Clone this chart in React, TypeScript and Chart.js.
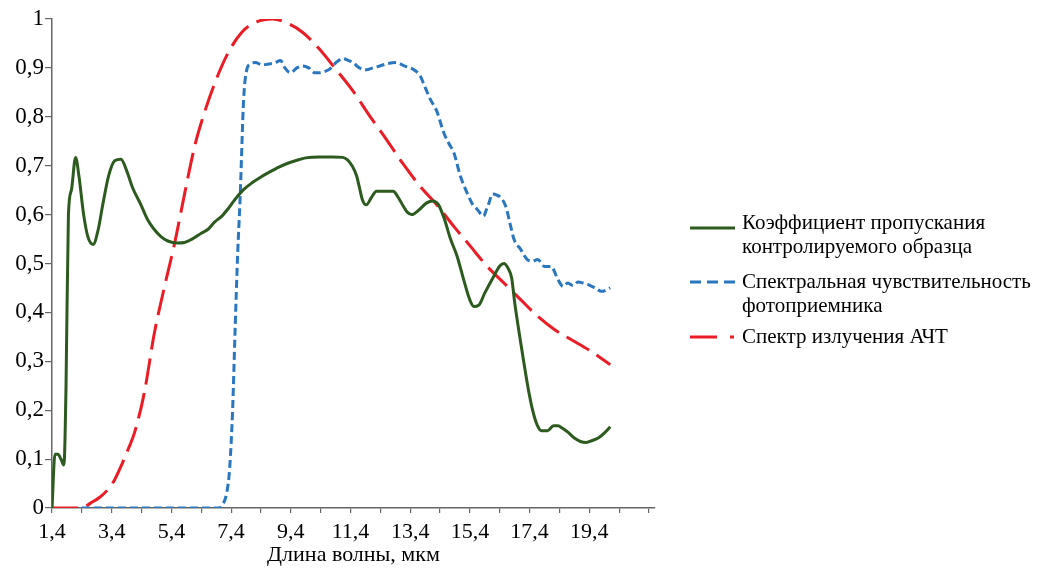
import React, { useEffect, useRef } from "react";
import { Chart, registerables } from "chart.js";

Chart.register(...registerables);

// ---- Data (wavelength, µm / relative value) ----
const transX = [1.4, 1.5, 1.6, 1.7, 1.8, 1.87, 1.95, 2.05, 2.19, 2.3, 2.46, 2.6, 2.78, 2.95, 3.1, 3.3, 3.5, 3.71, 3.9, 4.1, 4.38, 4.6, 4.82, 5.05, 5.28, 5.6, 5.84, 6.0, 6.18, 6.4, 6.63, 6.85, 7.09, 7.3, 7.53, 7.8, 8.1, 8.4, 8.66, 9.0, 9.3, 9.55, 9.9, 10.35, 10.8, 11.14, 11.3, 11.45, 11.6, 11.7, 11.8, 11.93, 12.1, 12.27, 12.5, 12.83, 13.0, 13.17, 13.3, 13.45, 13.7, 13.95, 14.15, 14.35, 14.55, 14.75, 14.97, 15.2, 15.4, 15.53, 15.7, 15.9, 16.2, 16.4, 16.54, 16.68, 16.8, 16.9, 17.05, 17.2, 17.35, 17.5, 17.65, 17.8, 18.0, 18.2, 18.35, 18.5, 18.68, 18.9, 19.1, 19.3, 19.5, 19.7, 19.9, 20.1];
const transY = [0, 0.11, 0.11, 0.1, 0.088, 0.25, 0.6, 0.65, 0.717, 0.68, 0.6, 0.555, 0.539, 0.57, 0.62, 0.68, 0.71, 0.713, 0.69, 0.655, 0.62, 0.59, 0.57, 0.555, 0.546, 0.542, 0.543, 0.547, 0.553, 0.562, 0.57, 0.585, 0.597, 0.612, 0.631, 0.65, 0.665, 0.677, 0.686, 0.697, 0.705, 0.71, 0.716, 0.718, 0.718, 0.717, 0.712, 0.7, 0.68, 0.655, 0.63, 0.62, 0.635, 0.648, 0.648, 0.648, 0.635, 0.617, 0.605, 0.6, 0.61, 0.624, 0.628, 0.62, 0.59, 0.55, 0.515, 0.465, 0.425, 0.412, 0.415, 0.44, 0.474, 0.495, 0.5, 0.49, 0.47, 0.42, 0.358, 0.3, 0.245, 0.2, 0.17, 0.158, 0.158, 0.168, 0.168, 0.163, 0.155, 0.143, 0.136, 0.134, 0.138, 0.143, 0.153, 0.166];

const sensX = [2.4, 4.0, 6.0, 7.0, 7.1, 7.25, 7.35, 7.45, 7.53, 7.62, 7.7, 7.82, 7.92, 8.05, 8.21, 8.45, 8.66, 8.85, 9.06, 9.2, 9.39, 9.6, 9.79, 10.0, 10.2, 10.35, 10.55, 10.69, 10.9, 11.14, 11.3, 11.48, 11.7, 11.93, 12.15, 12.38, 12.65, 12.94, 13.2, 13.5, 13.73, 13.9, 14.07, 14.3, 14.52, 14.7, 14.86, 15.08, 15.3, 15.5, 15.64, 15.86, 15.95, 16.04, 16.15, 16.3, 16.43, 16.6, 16.75, 16.88, 17.1, 17.32, 17.5, 17.67, 17.9, 18.12, 18.35, 18.52, 18.68, 18.85, 19.02, 19.2, 19.36, 19.6, 19.81, 20.1];
const sensY = [0, 0, 0, 0, 0.006, 0.03, 0.08, 0.2, 0.358, 0.52, 0.631, 0.836, 0.895, 0.908, 0.911, 0.906, 0.908, 0.91, 0.915, 0.9, 0.89, 0.9, 0.904, 0.9, 0.89, 0.89, 0.893, 0.897, 0.91, 0.919, 0.916, 0.911, 0.9, 0.896, 0.9, 0.904, 0.909, 0.911, 0.904, 0.897, 0.884, 0.86, 0.836, 0.81, 0.768, 0.745, 0.727, 0.679, 0.645, 0.62, 0.611, 0.597, 0.61, 0.624, 0.642, 0.64, 0.635, 0.617, 0.58, 0.549, 0.529, 0.508, 0.505, 0.508, 0.494, 0.494, 0.467, 0.453, 0.46, 0.455, 0.462, 0.46, 0.457, 0.45, 0.443, 0.45];

const bbX = [1.4, 2.4, 2.69, 3.0, 3.26, 3.5, 3.71, 3.95, 4.16, 4.49, 4.83, 5.17, 5.51, 5.85, 6.18, 6.41, 6.86, 7.31, 7.76, 8.21, 8.78, 9.22, 9.79, 10.35, 10.91, 11.48, 12.04, 12.6, 13.17, 13.73, 14.29, 14.86, 15.42, 15.98, 16.54, 17.1, 17.67, 18.23, 18.8, 19.36, 20.1];
const bbY = [0, 0, 0.01, 0.022, 0.037, 0.058, 0.085, 0.12, 0.153, 0.235, 0.358, 0.453, 0.542, 0.645, 0.74, 0.79, 0.87, 0.932, 0.973, 0.993, 1.0, 0.993, 0.973, 0.939, 0.897, 0.853, 0.802, 0.754, 0.703, 0.658, 0.62, 0.576, 0.535, 0.494, 0.46, 0.426, 0.392, 0.365, 0.344, 0.324, 0.293];

const xTickValues = [1.4, 2.4, 3.4, 4.4, 5.4, 6.4, 7.4, 8.4, 9.4, 10.4, 11.4, 12.4, 13.4, 14.4, 15.4, 16.4, 17.4, 18.4, 19.4, 20.4, 21.4];
const xTickLabels = ["1,4", "", "3,4", "", "5,4", "", "7,4", "", "9,4", "", "11,4", "", "13,4", "", "15,4", "", "17,4", "", "19,4", "", ""];

const seriesLabels = [
  ["Коэффициент пропускания", "контролируемого образца"],
  ["Спектральная чувствительность", "фотоприемника"],
  ["Спектр излучения АЧТ"],
];
const xTitle = "Длина волны, мкм";

const COLORS = ["#2d5a1e", "#2a77bf", "#ea1c25"];
const FONT = '"Liberation Serif", "Times New Roman", serif';

const toPoints = (xs: number[], ys: number[]) => xs.map((x, i) => ({ x, y: ys[i] }));

const legendPlugin = {
  id: "sideLegend",
  afterDraw(chart: any) {
    const ctx = chart.ctx as CanvasRenderingContext2D;
    const lineX0 = 690;
    const lineX1 = 735;
    const textX = 742;
    const lineH = 24;
    const itemTops = [223, 282, 337];
    const legendDash = [[], [11, 6], [27, 13, 4, 40]];
    ctx.save();
    chart.data.datasets.forEach((ds: any, i: number) => {
      const y = itemTops[i];
      const ly = y + (i === 0 ? 5 : 0);
      ctx.beginPath();
      ctx.strokeStyle = ds.borderColor;
      ctx.lineWidth = 3;
      ctx.setLineDash(legendDash[i]);
      ctx.moveTo(lineX0, ly);
      ctx.lineTo(lineX1, ly);
      ctx.stroke();
      ctx.setLineDash([]);
      ctx.fillStyle = "#000";
      ctx.font = `21px ${FONT}`;
      ctx.textBaseline = "middle";
      ctx.textAlign = "left";
      (seriesLabels[i] as string[]).forEach((t, k) => {
        ctx.fillText(t, textX, y + k * lineH);
      });
    });
    ctx.restore();
  },
};

export default function App() {
  const ref = useRef<HTMLCanvasElement | null>(null);
  useEffect(() => {
    if (!ref.current) return;
    const chart = new Chart(ref.current, {
      type: "line",
      data: {
        datasets: [
          {
            label: seriesLabels[0].join(" "),
            data: toPoints(transX, transY),
            borderColor: COLORS[0],
            borderWidth: 3,
            pointRadius: 0,
            cubicInterpolationMode: "monotone",
            fill: false,
          },
          {
            label: seriesLabels[1].join(" "),
            data: toPoints(sensX, sensY),
            borderColor: COLORS[1],
            borderWidth: 3,
            borderDash: [8, 4],
            pointRadius: 0,
            cubicInterpolationMode: "monotone",
            fill: false,
          },
          {
            label: seriesLabels[2].join(" "),
            data: toPoints(bbX, bbY),
            borderColor: COLORS[2],
            borderWidth: 3,
            borderDash: [26, 9],
            pointRadius: 0,
            cubicInterpolationMode: "monotone",
            fill: false,
          },
        ],
      },
      options: {
        animation: false,
        responsive: false,
        maintainAspectRatio: false,
        layout: { padding: { top: 19, right: 398, bottom: 0, left: 0 } },
        plugins: { legend: { display: false }, tooltip: { enabled: false } },
        scales: {
          x: {
            type: "linear",
            min: 1.4,
            max: 21.6,
            afterBuildTicks: (axis: any) => {
              axis.ticks = xTickValues.map((v) => ({ value: v }));
            },
            afterFit: (s: any) => {
              s.height = 60;
            },
            ticks: {
              autoSkip: false,
              maxRotation: 0,
              padding: 6,
              color: "#000",
              font: { family: FONT, size: 22 },
              callback: (_v: any, i: number) => xTickLabels[i],
            },
            grid: { drawOnChartArea: false, drawTicks: true, tickLength: 5, color: "#666", lineWidth: 1.2 },
            border: { color: "#666", width: 1.5 },
            title: { display: true, text: xTitle, color: "#000", padding: 0, font: { family: FONT, size: 22 } },
          },
          y: {
            min: 0,
            max: 1,
            afterFit: (s: any) => {
              s.width = 52;
            },
            ticks: {
              stepSize: 0.1,
              padding: 1,
              color: "#000",
              font: { family: FONT, size: 23 },
              callback: (v: any) => {
                const n = Number(v);
                if (Math.abs(n) < 1e-9) return "0";
                if (Math.abs(n - 1) < 1e-9) return "1";
                return n.toFixed(1).replace(".", ",");
              },
            },
            grid: { drawOnChartArea: false, drawTicks: true, tickLength: 7, color: "#666", lineWidth: 1.2 },
            border: { color: "#666", width: 1.5 },
          },
        },
      },
      plugins: [legendPlugin],
    } as any);
    return () => chart.destroy();
  }, []);
  return (
    <div style={{ position: "fixed", left: 0, top: 0, width: 1053, height: 568, background: "#fff" }}>
      <canvas ref={ref} width={1053} height={568} style={{ display: "block" }} />
    </div>
  );
}
